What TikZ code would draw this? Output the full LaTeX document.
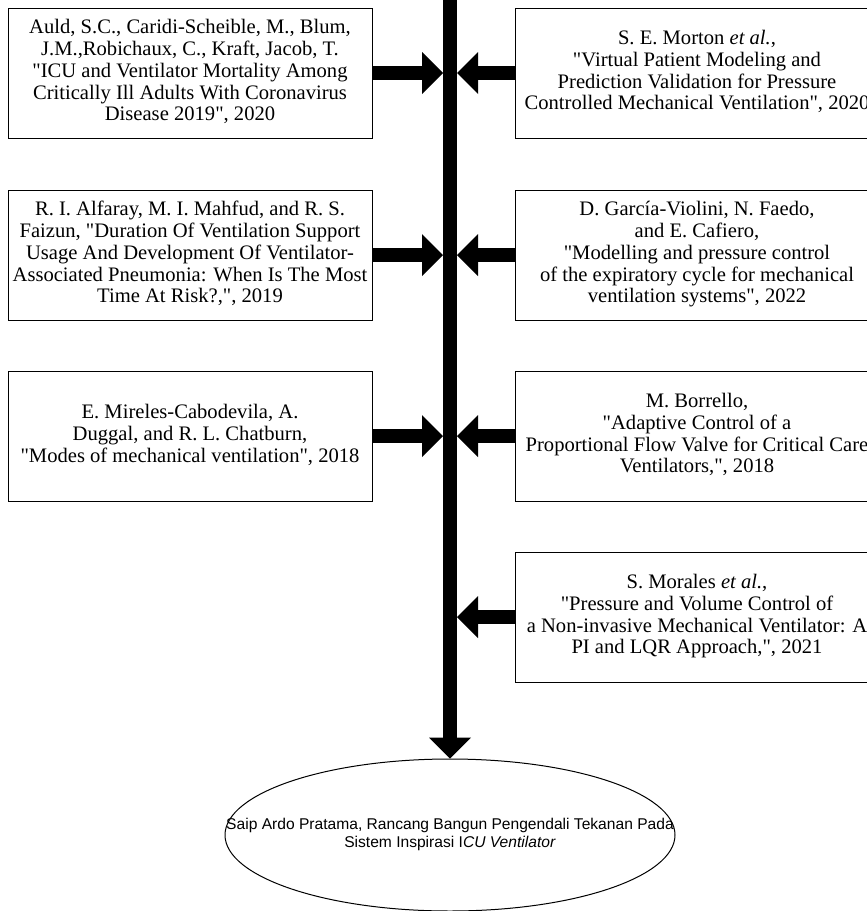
\documentclass[tikz,border=0pt]{standalone}
\usepackage{fontspec}
\setmainfont{Liberation Serif}[Ligatures=TeXOff]
\setsansfont{Liberation Sans}
\usetikzlibrary{arrows.meta,shapes.geometric}

% centred lines that may stick out of their box
\newcommand{\reftext}[1]{\makebox[0pt][c]{\begin{tabular}{@{}c@{}}#1\end{tabular}}}

\begin{document}
\begin{tikzpicture}[x=1pt,y=-1pt,
% common options for the reference boxes:
refbox/.style = {draw, line width=1pt, rectangle, minimum width=364pt,
            minimum height=130pt, inner sep=0, font=\fontsize{20.6}{21.7}\selectfont},
% common options for the thick arrows:
bigarrow/.style = {line width=14pt,
            -{Triangle[width=42pt,length=21pt,line width=0pt]}},
% the result at the bottom:
goal/.style = {ellipse, draw, line width=1pt, minimum width=450pt,
            minimum height=152pt, inner sep=0, font=\sffamily\fontsize{15.6}{17.5}\selectfont}]
\useasboundingbox (0,0) rectangle (867,911);
\node[refbox] (L1) at (190,73) {\reftext{Auld, S.C., Caridi-Scheible, M., Blum,\\
  J.M.,Robichaux, C., Kraft, Jacob, T.\\ "ICU and Ventilator Mortality Among\\
  Critically Ill Adults With Coronavirus\\ Disease 2019", 2020}};
\node[refbox] (L2) at (190,255) {\reftext{R. I. Alfaray, M. I. Mahfud, and R. S.\\
  Faizun, "Duration Of Ventilation Support\\ Usage And Development Of Ventilator-\\
  Associated Pneumonia: When Is The Most\\ Time At Risk?,", 2019}};
\node[refbox] (L3) at (190,436) {\reftext{E. Mireles-Cabodevila, A.\\
  Duggal, and R. L. Chatburn,\\ "Modes of mechanical ventilation", 2018}};
\node[refbox] (R1) at (697,73) {\reftext{S. E. Morton \textit{et al.},\\
  "Virtual Patient Modeling and\\ Prediction Validation for Pressure\\
  Controlled Mechanical Ventilation", 2020}};
\node[refbox] (R2) at (697,255) {\reftext{D. García-Violini, N. Faedo,\\
  and E. Cafiero,\\ "Modelling and pressure control\\
  of the expiratory cycle for mechanical\\ ventilation systems", 2022}};
\node[refbox] (R3) at (697,436) {\reftext{M. Borrello,\\ "Adaptive Control of a\\
  Proportional Flow Valve for Critical Care\\ Ventilators,", 2018}};
\node[refbox] (R4) at (697,617) {\reftext{S. Morales \textit{et al.},\\
  "Pressure and Volume Control of\\ a Non-invasive Mechanical Ventilator: A\\
  PI and LQR Approach,", 2021}};
\node[goal] (G) at (450,835) {\reftext{Saip Ardo Pratama, Rancang Bangun Pengendali Tekanan Pada\\
  Sistem Inspirasi I\textit{CU Ventilator}}};
% the trunk and its two edges
\coordinate (T0) at (450,-10);
\coordinate (TL) at (443,0);
\coordinate (TR) at (457,0);
\draw[bigarrow] (T0) -- (G.north);
\foreach \b in {L1,L2,L3}
  \draw[bigarrow] (\b.east) -- (\b.east -| TL);
\foreach \b in {R1,R2,R3,R4}
  \draw[bigarrow] (\b.west) -- (\b.west -| TR);
\end{tikzpicture}
\end{document}
